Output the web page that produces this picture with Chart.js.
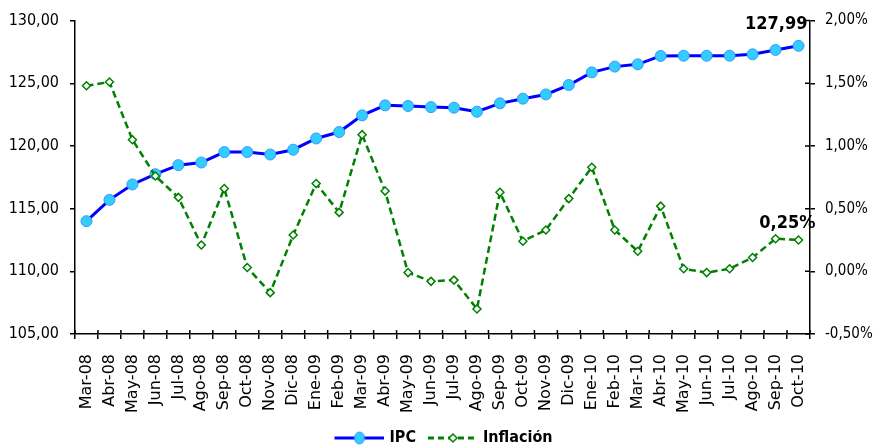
<!DOCTYPE html>
<html>
<head>
<meta charset="utf-8">
<script src="https://cdn.jsdelivr.net/npm/chart.js@4"></script>
<style>
  body{margin:0;background:#fff;}
  #wrap{width:875px;height:445px;}
</style>
</head>
<body>
<div id="wrap"><canvas id="chart" width="875" height="445"></canvas></div>
<script>
const months = ["Mar-08","Abr-08","May-08","Jun-08","Jul-08","Ago-08","Sep-08","Oct-08","Nov-08","Dic-08",
  "Ene-09","Feb-09","Mar-09","Abr-09","May-09","Jun-09","Jul-09","Ago-09","Sep-09","Oct-09","Nov-09","Dic-09",
  "Ene-10","Feb-10","Mar-10","Abr-10","May-10","Jun-10","Jul-10","Ago-10","Sep-10","Oct-10"];

const ipc = [114.00,115.70,116.93,117.75,118.47,118.68,119.51,119.51,119.32,119.70,
  120.60,121.11,122.44,123.24,123.19,123.10,123.05,122.73,123.40,123.77,124.11,124.86,
  125.87,126.33,126.51,127.18,127.20,127.20,127.20,127.31,127.66,127.99];

const inflacion = [1.48,1.51,1.05,0.76,0.59,0.21,0.66,0.03,-0.17,0.29,
  0.70,0.47,1.09,0.64,-0.01,-0.08,-0.07,-0.30,0.63,0.24,0.33,0.58,
  0.83,0.33,0.16,0.52,0.02,-0.01,0.02,0.11,0.26,0.25];

const FONT = "'DejaVu Sans', Verdana, sans-serif";
const FONT_C = "'DejaVu Sans Condensed', 'DejaVu Sans', sans-serif";

function fmt(v){
  return v.toFixed(2).replace(".", ",");
}

// legend sample: 15px blank on the left, then a 50px line with its marker
function legendIcon(kind){
  const m = 15;
  const c = document.createElement("canvas");
  c.width = m + 50; c.height = 14;
  const g = c.getContext("2d");
  if(kind === "ipc"){
    g.strokeStyle = "#0000ff"; g.lineWidth = 3;
    g.beginPath(); g.moveTo(m,7); g.lineTo(m+50,7); g.stroke();
    g.fillStyle = "#33ccff"; g.strokeStyle = "#3399ff"; g.lineWidth = 1;
    g.beginPath(); g.ellipse(m+25,7,5,6,0,0,Math.PI*2); g.fill(); g.stroke();
  } else {
    g.strokeStyle = "#008000"; g.lineWidth = 3; g.setLineDash([6,4]);
    g.beginPath(); g.moveTo(m,7); g.lineTo(m+50,7); g.stroke();
    g.setLineDash([]); g.fillStyle = "#fff"; g.lineWidth = 1.5;
    g.beginPath(); g.moveTo(m+25,3); g.lineTo(m+29,7); g.lineTo(m+25,11); g.lineTo(m+21,7); g.closePath();
    g.fill(); g.stroke();
  }
  return c;
}

// data labels for the last month + inner halves of the tick marks
const extras = {
  id: "extras",
  afterLayout(chart){
    if(chart.legend){
      chart.legend.top += 11;
      chart.legend.bottom += 11;
    }
  },
  afterDraw(chart){
    const ctx = chart.ctx;
    const {x, y, y2} = chart.scales;
    ctx.save();
    ctx.strokeStyle = "#000";
    ctx.lineWidth = 1.5;
    ctx.beginPath();
    for(let i = 0; i <= months.length; i++){
      const px = x.left + i * x.width / months.length;
      ctx.moveTo(px, x.top);
      ctx.lineTo(px, x.top - 4);
    }
    y2.ticks.forEach(t => {
      const py = y2.getPixelForValue(t.value);
      ctx.moveTo(y2.left, py);
      ctx.lineTo(y2.left - 5, py);
    });
    ctx.stroke();

    const last = months.length - 1;
    const px = x.getPixelForValue(last);
    ctx.fillStyle = "#000";
    ctx.font = "bold 18px " + FONT_C;
    ctx.textAlign = "right";
    ctx.textBaseline = "middle";
    ctx.fillText(fmt(ipc[last]), px + 9, y.getPixelForValue(ipc[last]) - 21);
    ctx.fillText(fmt(inflacion[last]) + "%", px + 17, y2.getPixelForValue(inflacion[last]) - 17);
    ctx.restore();
  }
};

new Chart(document.getElementById("chart").getContext("2d"), {
  type: "line",
  data: {
    labels: months,
    datasets: [{
      label: "IPC",
      data: ipc,
      yAxisID: "y",
      borderColor: "#0000ff",
      borderWidth: 3,
      backgroundColor: "#33ccff",
      pointBorderColor: "#3399ff",
      pointBorderWidth: 1,
      pointRadius: 5.5,
      pointStyle: "circle",
      tension: 0,
      order: 2
    },{
      label: "Inflación",
      data: inflacion,
      yAxisID: "y2",
      borderColor: "#008000",
      borderWidth: 2.5,
      borderDash: [7,4],
      backgroundColor: "#ffffff",
      pointBorderColor: "#008000",
      pointBorderWidth: 1.5,
      pointRadius: 4,
      pointStyle: "rectRot",
      tension: 0,
      order: 1
    }]
  },
  options: {
    responsive: false,
    animation: false,
    layout: {padding: {top: 19, bottom: 0, left: 0, right: 0}},
    plugins: {
      tooltip: {enabled: false},
      legend: {
        position: "bottom",
        labels: {
          usePointStyle: true,
          pointStyleWidth: 59,
          boxHeight: 14,
          color: "#000",
          font: {family: FONT_C, size: 16, weight: "bold"},
          padding: 0,
          generateLabels(chart){
            return chart.data.datasets.map((ds, i) => ({
              text: ds.label,
              pointStyle: legendIcon(i === 0 ? "ipc" : "inf"),
              fillStyle: "#fff",
              strokeStyle: "#fff",
              lineWidth: 0,
              datasetIndex: i,
              fontColor: "#000"
            }));
          }
        }
      }
    },
    scales: {
      x: {
        offset: true,
        afterFit(s){ s.height = 85; },
        grid: {offset: true, drawOnChartArea: false, color: "#000", lineWidth: 1.5, tickLength: 5},
        border: {color: "#000", width: 1.5},
        ticks: {color: "#000", font: {family: FONT, size: 16}, minRotation: 90, maxRotation: 90, autoSkip: false, padding: 15}
      },
      y: {
        position: "left",
        min: 105, max: 130,
        afterFit(s){ s.width = 75; },
        grid: {drawOnChartArea: false, color: "#000", lineWidth: 1.5, tickLength: 5},
        border: {color: "#000", width: 1.5},
        ticks: {stepSize: 5, color: "#000", font: {family: FONT_C, size: 16}, padding: 11, callback: v => fmt(v)}
      },
      y2: {
        position: "right",
        min: -0.5, max: 2.0,
        afterFit(s){ s.width = 65; },
        grid: {drawOnChartArea: false, color: "#000", lineWidth: 1.5, tickLength: 5},
        border: {color: "#000", width: 1.5},
        ticks: {stepSize: 0.5, color: "#000", font: {family: FONT_C, size: 15}, padding: 10, callback: v => fmt(v) + "%"}
      }
    }
  },
  plugins: [extras]
});
</script>
</body>
</html>
